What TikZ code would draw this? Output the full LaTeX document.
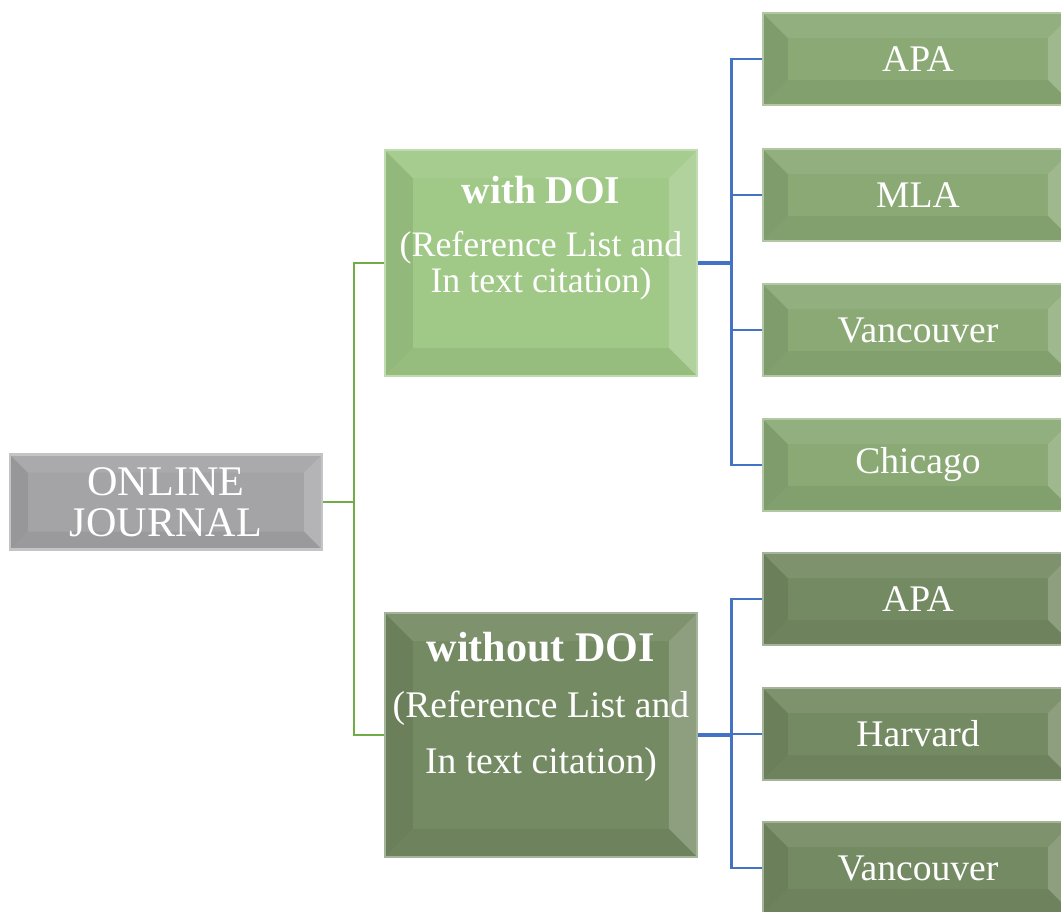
\documentclass[tikz,border=0pt]{standalone}
\usepackage{fontspec}
\setmainfont{Liberation Serif}
\usepackage{xcolor}
\usepackage{tikz}
\definecolor{rootgray}{HTML}{A4A4A7}
\definecolor{doigreen}{HTML}{A0C886}
\definecolor{leafgreen}{HTML}{8AA975}
\definecolor{darkgreen}{HTML}{748A63}
\definecolor{trunkgreen}{HTML}{70AD47}
\definecolor{branchblue}{HTML}{4472C4}
\tikzset{
    every node/.style={text=white},
    bevel/.style 2 args={path picture={
        \coordinate (sw) at (path picture bounding box.south west);
        \coordinate (nw) at (path picture bounding box.north west);
        \coordinate (ne) at (path picture bounding box.north east);
        \coordinate (se) at (path picture bounding box.south east);
        \fill[#1!92!black] (sw) -- (nw) -- ([shift={(#2,-#2)}]nw) -- ([shift={(#2,#2)}]sw) -- cycle;
        \fill[#1!93!white] (nw) -- (ne) -- ([shift={(-#2,-#2)}]ne) -- ([shift={(#2,-#2)}]nw) -- cycle;
        \fill[#1!82!white] (ne) -- (se) -- ([shift={(-#2,#2)}]se) -- ([shift={(-#2,-#2)}]ne) -- cycle;
        \fill[#1!94!black] (se) -- (sw) -- ([shift={(#2,#2)}]sw) -- ([shift={(-#2,#2)}]se) -- cycle;
    }},
    tile/.style 2 args={draw=#1!65!white, line width=0.8pt, fill=#1, bevel={#1}{#2}, inner sep=0pt},
    rootbox/.style={tile={rootgray}{0.18}, minimum width=3.12cm, minimum height=0.95cm,
        align=center, font=\fontsize{12}{11.7}\selectfont},
    midbox/.style={tile={#1}{0.28}, minimum width=3.12cm},
    leafbox/.style={tile={#1}{0.25}, minimum width=3.10cm, minimum height=0.92cm,
        font=\fontsize{10.7}{12}\selectfont},
    trunk/.style={trunkgreen, line width=0.6pt},
    branch/.style={branchblue, line width=0.75pt}
}
\begin{document}
\begin{tikzpicture}
    \useasboundingbox (0,0) rectangle (10.61,-9.11);

    % Root and the two kinds of journal article
    \node[rootbox] (root) at (1.66,-5.02) {ONLINE\\JOURNAL};
    \node[midbox=doigreen, minimum height=2.26cm] (withdoi) at (5.41,-2.63)
        {\parbox[c][1.74cm][t]{3cm}{\centering\fontsize{10.2}{10.5}\selectfont
         {\bfseries\fontsize{11.2}{10.5}\selectfont with DOI}\\[4.5pt]
         (Reference List and\\In text citation)}};
    \node[midbox=darkgreen, minimum height=2.44cm] (withoutdoi) at (5.41,-7.35)
        {\parbox[c][2.06cm][t]{3.06cm}{\centering\fontsize{10.7}{15.9}\selectfont
         {\bfseries\fontsize{12}{15.9}\selectfont without DOI}\\[0pt]
         (Reference List and\\In text citation)}};

    % Green connectors
    \coordinate (split) at ([xshift=0.31cm]root.east);
    \draw[trunk] (root.east) -- (split);
    \draw[trunk] (withdoi.west) -| (split) |- (withoutdoi.west);

    % Styles with DOI
    \coordinate (hubA) at ([xshift=0.33cm]withdoi.east);
    \draw[branch, line width=1.2pt] (withdoi.east) -- (hubA);
    \foreach \name/\y/\txt in {apaA/0.59/APA, mla/1.95/MLA, vanA/3.30/Vancouver, chicago/4.65/Chicago} {
        \node[leafbox=leafgreen] (\name) at (9.18,-\y) {\txt};
        \draw[branch] (hubA) |- (\name.west);
    }

    % Styles without DOI
    \coordinate (hubB) at ([xshift=0.33cm]withoutdoi.east);
    \draw[branch, line width=1.2pt] (withoutdoi.east) -- (hubB);
    \foreach \name/\y/\txt in {apaB/5.99/APA, harvard/7.34/Harvard, vanB/8.68/Vancouver} {
        \node[leafbox=darkgreen] (\name) at (9.18,-\y) {\txt};
        \draw[branch] (hubB) |- (\name.west);
    }
\end{tikzpicture}
\end{document}
